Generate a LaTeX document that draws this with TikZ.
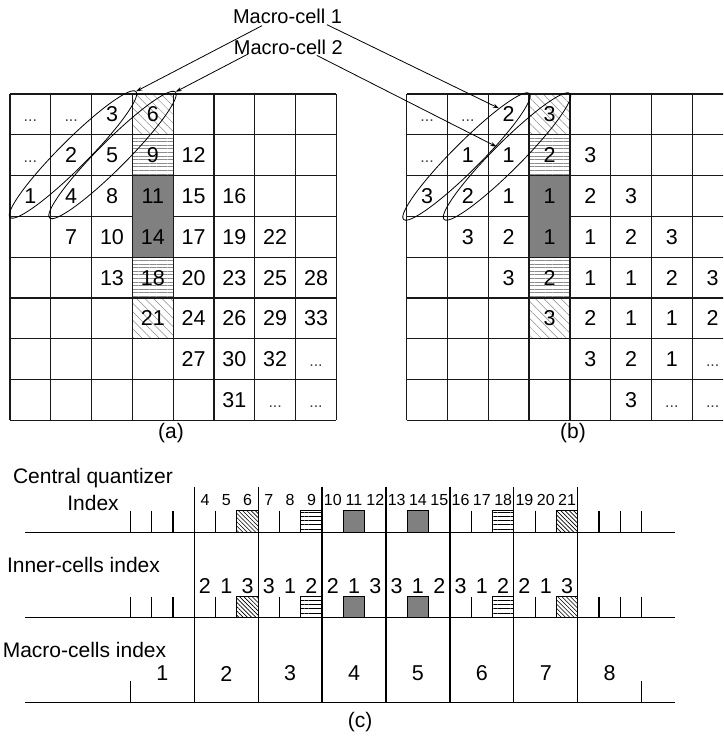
\documentclass[tikz,border=0pt]{standalone}
\usepackage{fontspec}
\setmainfont{Liberation Sans}
\usetikzlibrary{shapes.geometric,arrows.meta,patterns.meta}
\newcommand\mydots{\vphantom{0}\textcolor{black!75}{\fontsize{16}{16}\selectfont...}}
\tikzset{
  gline/.style={black!90, line width=1.3pt},
  cnum/.style={inner sep=0pt, font=\fontsize{21.5}{24}\selectfont},
  qnum/.style={inner sep=0pt, font=\fontsize{16}{18}\selectfont},
  txt/.style={inner sep=0pt, font=\fontsize{21}{24}\selectfont},
  mclbl/.style={inner sep=0pt, anchor=base, font=\fontsize{20}{24}\selectfont},
  ell/.style={draw, ellipse, rotate=45, minimum width=178pt, minimum height=28pt, inner sep=0pt, line width=0.8pt},
  arr/.style={-{Stealth[length=6pt,width=4pt]}, line width=0.8pt},
  hatchdiag/.style={pattern={Lines[angle=-45,distance=6pt,line width=0.5pt]}, pattern color=black!45},
  hatchhor/.style={pattern={Lines[angle=0,distance=3.6pt,line width=0.5pt]}, pattern color=black!45},
  tickl/.style={line width=1.1pt},
  longl/.style={line width=1.3pt},
  axisl/.style={line width=1.3pt},
  boxdiag/.style={draw, line width=0.9pt, pattern={Lines[angle=-45,distance=3pt,line width=0.6pt]}},
  boxhor/.style={draw, line width=0.9pt, pattern={Lines[angle=0,distance=4.2pt,line width=0.6pt]}},
  boxgray/.style={draw, line width=0.9pt, fill=black!50},
}
\begin{document}
\begin{tikzpicture}[x=1pt,y=-1pt]
\useasboundingbox (0,0) rectangle (723,739);
\clip (0,0) rectangle (723,739);
\fill[white] (0,0) rectangle (723,739);

% ---------- grids (a) and (b) ----------
\foreach \gx in {10,406.7} {
  \path[hatchdiag] ({\gx+122.4},94) rectangle ({\gx+163.2},134.8);
  \path[hatchhor] ({\gx+122.4},134.8) rectangle ({\gx+163.2},175.6);
  \path[hatchhor] ({\gx+122.4},257.2) rectangle ({\gx+163.2},298);
  \path[hatchdiag] ({\gx+122.4},298) rectangle ({\gx+163.2},338.8);
  \foreach \i in {0,...,8} {
    \draw[gline] ({\gx+\i*40.8},94) -- ({\gx+\i*40.8},420.4);
    \draw[gline] (\gx,{94+\i*40.8}) -- ({\gx+326.4},{94+\i*40.8});
  }
  \fill[black!50] ({\gx+122.4+0.65},{175.6+0.65}) rectangle ({\gx+163.2-0.65},{257.2-0.65});
}

\foreach \r/\c/\t in {0/0/\mydots,0/1/\mydots,0/2/3,0/3/6,
  1/0/\mydots,1/1/2,1/2/5,1/3/9,1/4/12,
  2/0/1,2/1/4,2/2/8,2/3/11,2/4/15,2/5/16,
  3/1/7,3/2/10,3/3/14,3/4/17,3/5/19,3/6/22,
  4/2/13,4/3/18,4/4/20,4/5/23,4/6/25,4/7/28,
  5/3/21,5/4/24,5/5/26,5/6/29,5/7/33,
  6/4/27,6/5/30,6/6/32,6/7/\mydots,
  7/5/31,7/6/\mydots,7/7/\mydots}
  \node[cnum] (a\r\c) at ({10+(\c+0.5)*40.8},{94+(\r+0.5)*40.8}) {\t};

\foreach \r/\c/\t in {0/0/\mydots,0/1/\mydots,0/2/2,0/3/3,
  1/0/\mydots,1/1/1,1/2/1,1/3/2,1/4/3,
  2/0/3,2/1/2,2/2/1,2/3/1,2/4/2,2/5/3,
  3/1/3,3/2/2,3/3/1,3/4/1,3/5/2,3/6/3,
  4/2/3,4/3/2,4/4/1,4/5/1,4/6/2,4/7/3,
  5/3/3,5/4/2,5/5/1,5/6/1,5/7/2,
  6/4/3,6/5/2,6/6/1,6/7/\mydots,
  7/5/3,7/6/\mydots,7/7/\mydots}
  \node[cnum] (b\r\c) at ({406.7+(\c+0.5)*40.8},{94+(\r+0.5)*40.8}) {\t};

\node[txt] (capa) at (171,433) {(a)};
\node[txt] (capb) at (573,433) {(b)};

% ellipses
\node[ell] (ea1) at (73,154.5) {};
\node[ell] (ea2) at (112.5,155) {};
\node[ell] (eb1) at (466.5,156.5) {};
\node[ell] (eb2) at (507,156.5) {};

% macro-cell labels and arrows
\node[mclbl] (mc1) at (287.5,23.3) {Macro-cell 1};
\node[mclbl] (mc2) at (288.3,54) {Macro-cell 2};
\draw[arr] ([xshift=-25.5pt,yshift=-2pt]mc1.south) -- (ea1.east);
\draw[arr] ([xshift=39.5pt,yshift=-1pt]mc1.south) -- (eb1.11);
\draw[arr] ([xshift=-40pt,yshift=0.5pt]mc2.south) -- (ea2.east);
\draw[arr] ([xshift=28.5pt,yshift=-1pt]mc2.south) -- (eb2.92);

% ---------- (c) ----------
\foreach \n in {0,...,24} {
  \draw[tickl] ({130.4+\n*21.3},510.7) -- ({130.4+\n*21.3},532.3);
  \draw[tickl] ({130.4+\n*21.3},596.7) -- ({130.4+\n*21.3},617.3);
}
\foreach \n/\st in {6/boxdiag,9/boxhor,11/boxgray,14/boxgray,18/boxhor,21/boxdiag} {
  \path[\st] ({130.4+(\n-1)*21.3},510.7) rectangle ({130.4+\n*21.3},532.3);
  \path[\st] ({130.4+(\n-1)*21.3},596.7) rectangle ({130.4+\n*21.3},617.3);
}
\foreach \k in {1,...,7}
  \draw[longl] ({130.4+3*\k*21.3},486.7) -- ({130.4+3*\k*21.3},702.3);
\draw[axisl] (25,532.3) -- (675,532.3);
\draw[axisl] (25,617.3) -- (675,617.3);
\draw[axisl] (25,702.3) -- (675,702.3);
\draw[tickl] (130.4,681) -- (130.4,702.3);
\draw[tickl] (641.6,681) -- (641.6,702.3);

\foreach \n in {4,...,21}
  \node[qnum] (q\n) at ({130.4+(\n-0.5)*21.3},500) {\n};
\foreach \n/\v in {4/2,5/1,6/3,7/3,8/1,9/2,10/2,11/1,12/3,13/3,14/1,15/2,16/3,17/1,18/2,19/2,20/1,21/3}
  \node[cnum] (i\n) at ({130.4+(\n-0.5)*21.3},586) {\v};
\foreach \k in {1,...,8}
  \node[cnum] (m\k) at ({130.4+(3*\k-1.5)*21.3},673.5) {\k};

\node[txt] (cq) at (93,478) {Central quantizer};
\node[txt] (idx) at (93,503) {Index};
\node[txt] (ici) at (83.5,565) {Inner-cells index};
\node[txt] (mci) at (84.5,650) {Macro-cells index};
\node[txt] (capc) at (360,722) {(c)};
\end{tikzpicture}
\end{document}
